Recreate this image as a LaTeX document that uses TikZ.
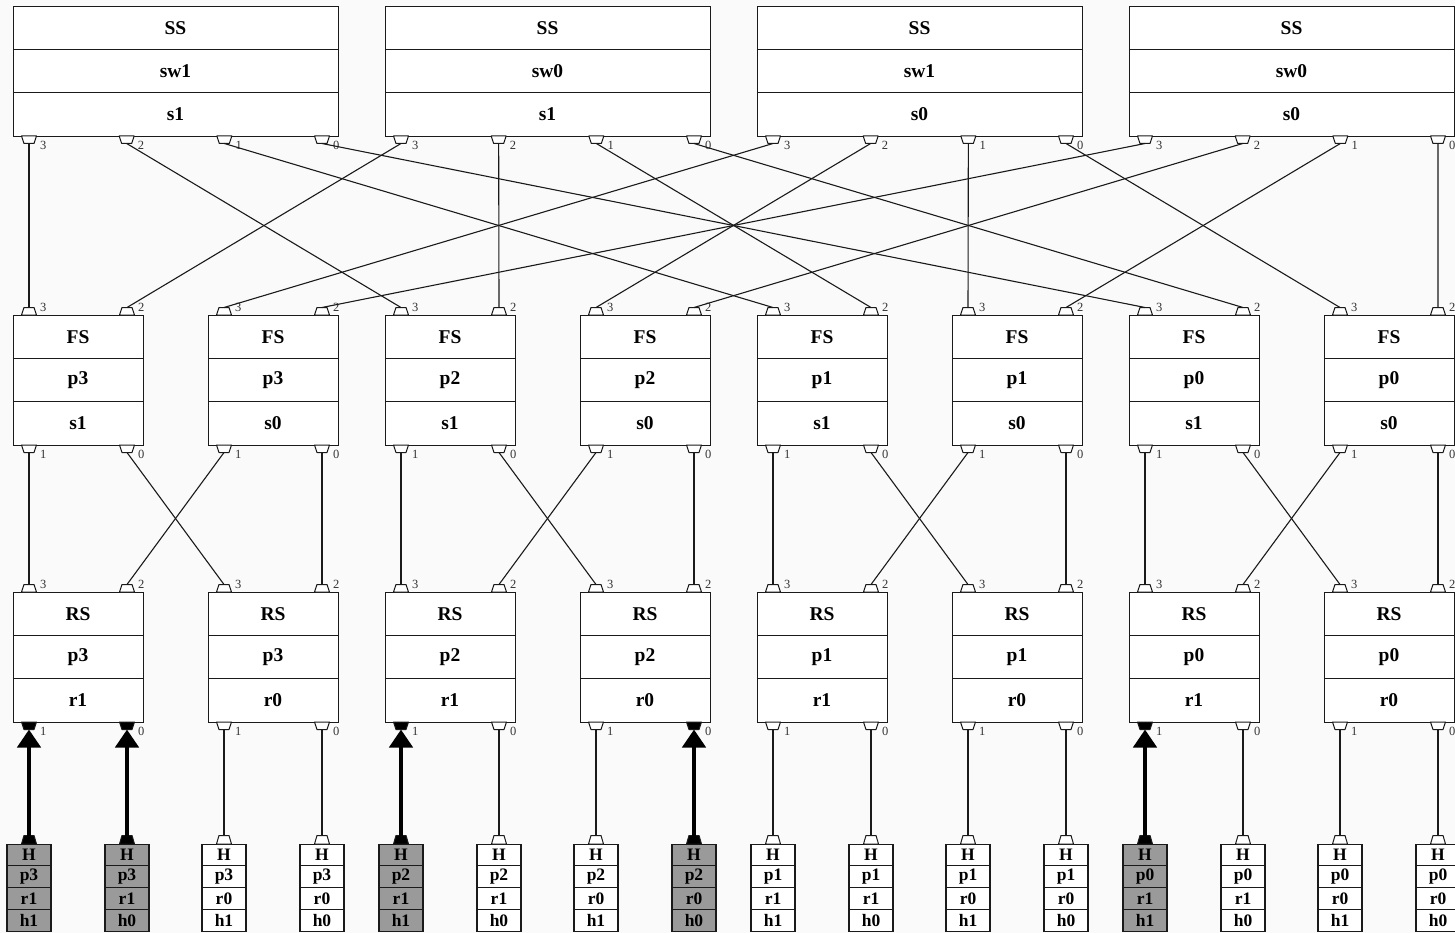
\documentclass[tikz,border=0pt]{standalone}
\usepackage{fontspec}
\setmainfont{Liberation Serif}
\usetikzlibrary{arrows.meta}
\definecolor{bgcol}{HTML}{FAFAFA}
\definecolor{hlgray}{HTML}{9A9A9A}
\definecolor{linecol}{HTML}{1A1A1A}
\tikzset{
  boxframe/.style={draw=linecol, line width=1.3pt, inner sep=0pt},
  sepline/.style={draw=linecol, line width=1.3pt},
  boxtext/.style={inner sep=0pt, font=\fontsize{19.5}{19.5}\selectfont\bfseries},
  htext/.style={inner sep=0pt, font=\fontsize{17.5}{17.5}\selectfont\bfseries},
  portline/.style={draw=linecol, line width=1pt, line join=round},
  portlab/.style={anchor=west, inner sep=0pt, text=black!80, font=\fontsize{12.5}{12.5}\selectfont},
  conn/.style={draw=linecol, line width=1.1pt},
  hlarrow/.style={draw=black, line width=4.5pt, -{Triangle[length=18pt,width=23pt]}},
}
\newcommand\tribox[8]{%
  \node[boxframe, fill=white, anchor=north west, minimum width=#4pt, minimum height=#5pt] (#1) at (#2,#3) {};
  \draw[sepline] (#2,#3+#5/3) -- (#2+#4,#3+#5/3);
  \draw[sepline] (#2,#3+2*#5/3) -- (#2+#4,#3+2*#5/3);
  \node[boxtext] (#1-a) at (#2+#4/2,#3+#5/6) {#6};
  \node[boxtext] (#1-b) at (#2+#4/2,#3+#5/2) {#7};
  \node[boxtext] (#1-c) at (#2+#4/2,#3+5*#5/6) {#8};
}
\newcommand\pdown[5]{%
  \draw[portline, fill=#5] (#2-7.5,#3) -- (#2+7.5,#3) -- (#2+5,#3+7.5) -- (#2-5,#3+7.5) -- cycle;
  \coordinate (#1) at (#2,#3+7.5);
  \node[portlab] (#1-l) at (#2+11,#3+9) {#4};
}
\newcommand\pup[5]{%
  \draw[portline, fill=#5] (#2-7.5,#3) -- (#2+7.5,#3) -- (#2+5,#3-7.5) -- (#2-5,#3-7.5) -- cycle;
  \coordinate (#1) at (#2,#3-7.5);
  \node[portlab] (#1-l) at (#2+11,#3-8) {#4};
}
\begin{document}
\begin{tikzpicture}[x=1pt,y=-1pt]
\useasboundingbox (0,0) rectangle (1455,933);
\fill[bgcol] (0,0) rectangle (1455,933);

% ---------- SS boxes ----------
\foreach \i/\sw/\s in {0/1/1,1/0/1,2/1/0,3/0/0}{
  \pgfmathsetmacro\xl{13+372*\i}
  \tribox{ss\i}{\xl}{6}{325}{130}{SS}{sw\sw}{s\s}
  \foreach \k in {0,1,2,3}{
    \pgfmathsetmacro\cx{\xl+16+97.667*\k}
    \pgfmathtruncatemacro\pn{3-\k}
    \pdown{ss\i-\pn}{\cx}{136}{\pn}{white}
  }
}

% ---------- FS boxes ----------
\foreach \j in {0,...,7}{
  \pgfmathtruncatemacro\g{floor(\j/2)}
  \pgfmathtruncatemacro\w{mod(\j,2)}
  \pgfmathtruncatemacro\p{3-\g}
  \pgfmathtruncatemacro\s{1-\w}
  \pgfmathsetmacro\xl{13+372*\g+195*\w}
  \tribox{fs\j}{\xl}{315}{130}{130}{FS}{p\p}{s\s}
  \pgfmathsetmacro\ca{\xl+16}
  \pgfmathsetmacro\cb{\xl+114}
  \pup{fs\j-3}{\ca}{315}{3}{white}
  \pup{fs\j-2}{\cb}{315}{2}{white}
  \pdown{fs\j-1}{\ca}{445}{1}{white}
  \pdown{fs\j-0}{\cb}{445}{0}{white}
}

% ---------- RS boxes ----------
\foreach \m/\fa/\fb in {0/black/black,1/white/white,2/black/white,3/white/black,4/white/white,5/white/white,6/black/white,7/white/white}{
  \pgfmathtruncatemacro\g{floor(\m/2)}
  \pgfmathtruncatemacro\w{mod(\m,2)}
  \pgfmathtruncatemacro\p{3-\g}
  \pgfmathtruncatemacro\r{1-\w}
  \pgfmathsetmacro\xl{13+372*\g+195*\w}
  \tribox{rs\m}{\xl}{592}{130}{130}{RS}{p\p}{r\r}
  \pgfmathsetmacro\ca{\xl+16}
  \pgfmathsetmacro\cb{\xl+114}
  \pup{rs\m-3}{\ca}{592}{3}{white}
  \pup{rs\m-2}{\cb}{592}{2}{white}
  \pdown{rs\m-1}{\ca}{722}{1}{\fa}
  \pdown{rs\m-0}{\cb}{722}{0}{\fb}
}

% ---------- H boxes ----------
\foreach \n/\hf/\pf in {0/hlgray/black,1/hlgray/black,2/white/white,3/white/white,4/hlgray/black,5/white/white,6/white/white,7/hlgray/black,8/white/white,9/white/white,10/white/white,11/white/white,12/hlgray/black,13/white/white,14/white/white,15/white/white}{
  \pgfmathtruncatemacro\m{floor(\n/2)}
  \pgfmathtruncatemacro\g{floor(\n/4)}
  \pgfmathtruncatemacro\w{mod(\m,2)}
  \pgfmathtruncatemacro\o{mod(\n,2)}
  \pgfmathtruncatemacro\p{3-\g}
  \pgfmathtruncatemacro\r{1-\w}
  \pgfmathtruncatemacro\h{1-\o}
  \pgfmathsetmacro\cx{13+372*\g+195*\w+16+98*\o}
  \node[boxframe, fill=\hf, minimum width=44pt, minimum height=87pt, anchor=north] (hbox\n) at (\cx,844) {};
  \draw[sepline] (\cx-22,865.75) -- (\cx+22,865.75);
  \draw[sepline] (\cx-22,887.5) -- (\cx+22,887.5);
  \draw[sepline] (\cx-22,909.25) -- (\cx+22,909.25);
  \node[htext] (hbox\n-a) at (\cx,855) {H};
  \node[htext] (hbox\n-b) at (\cx,876.6) {p\p};
  \node[htext] (hbox\n-c) at (\cx,898.4) {r\r};
  \node[htext] (hbox\n-d) at (\cx,920.1) {h\h};
  \draw[portline, fill=\pf] (\cx-7.5,844) -- (\cx+7.5,844) -- (\cx+5,835.5) -- (\cx-5,835.5) -- cycle;
  \coordinate (hp\n) at (\cx,835.5);
}

% ---------- SS -> FS ----------
\foreach \i/\sw/\s in {0/1/1,1/0/1,2/1/0,3/0/0}{
  \foreach \pn in {3,2,1,0}{
    \pgfmathtruncatemacro\j{(3-\pn)*2+(1-\s)}
    \pgfmathtruncatemacro\fp{2+\sw}
    \draw[conn] (ss\i-\pn) -- (fs\j-\fp);
  }
}

% ---------- FS -> RS ----------
\foreach \j in {0,...,7}{
  \pgfmathtruncatemacro\g{floor(\j/2)}
  \pgfmathtruncatemacro\s{1-mod(\j,2)}
  \pgfmathtruncatemacro\rp{2+\s}
  \foreach \q in {1,0}{
    \pgfmathtruncatemacro\m{2*\g+1-\q}
    \draw[conn] (fs\j-\q) -- (rs\m-\rp);
  }
}

% ---------- RS <- H ----------
\foreach \m/\q/\n/\st in {0/1/0/hlarrow,0/0/1/hlarrow,1/1/2/conn,1/0/3/conn,2/1/4/hlarrow,2/0/5/conn,3/1/6/conn,3/0/7/hlarrow,4/1/8/conn,4/0/9/conn,5/1/10/conn,5/0/11/conn,6/1/12/hlarrow,6/0/13/conn,7/1/14/conn,7/0/15/conn}{
  \draw[\st] (hp\n) -- (rs\m-\q);
}
\end{tikzpicture}
\end{document}
